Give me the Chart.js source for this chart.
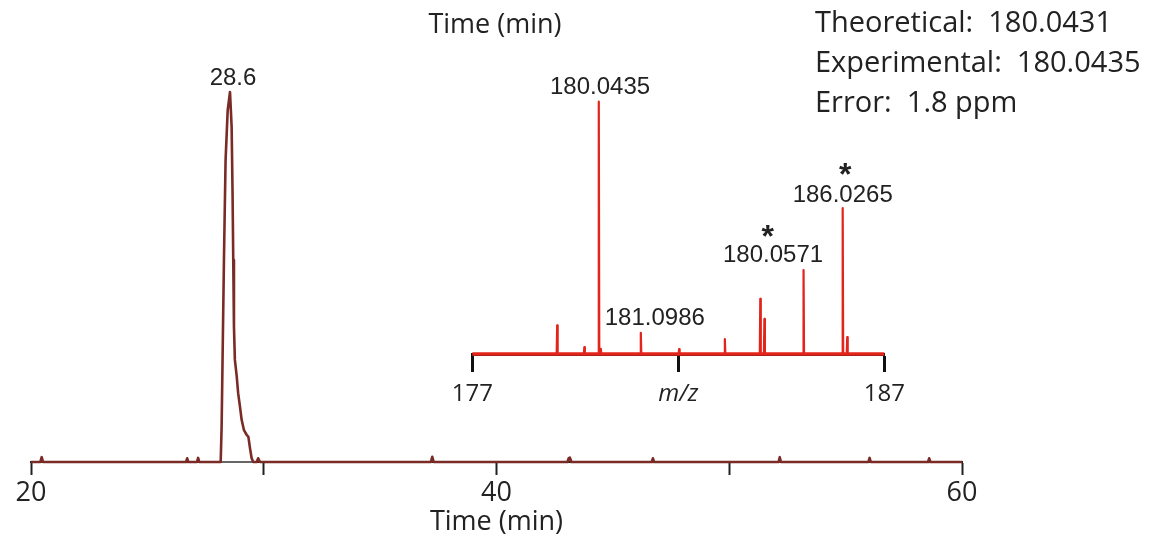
<!DOCTYPE html>
<html lang="en">
<head>
  <meta charset="UTF-8">
  <title>Chromatogram with mass spectrum inset</title>
  <script src="https://cdn.jsdelivr.net/npm/chart.js"></script>
  <style>
    body { margin: 0; background: #fff; }
    #wrap { position: relative; width: 1152px; height: 544px; overflow: hidden; }
    canvas { position: absolute; }
    #main { left: 0; top: 0; }
    #inset { left: 400px; top: 40px; }
    .txt { position: absolute; font-family: 'Open Sans', sans-serif; color: #222; white-space: pre; }
    #topTitle { left: 495px; top: 4px; transform: translateX(-50%); font-size: 27px; }
    #stats { left: 815px; top: 1px; font-size: 29px; line-height: 40px; }
  </style>
</head>
<body>
  <div id="wrap">
    <canvas id="main" width="1152" height="544"></canvas>
    <canvas id="inset" width="560" height="370"></canvas>
    <div class="txt" id="topTitle">Time (min)</div>
    <div class="txt" id="stats">Theoretical:  180.0431
Experimental:  180.0435
Error:  1.8 ppm</div>
  </div>

  <script>
    // chromatogram trace (time in min, relative intensity)
    const traceTime = [20, 20.40, 20.46, 20.52, 26.66, 26.71, 26.76, 27.13, 27.18, 27.23,
      28.15, 28.19, 28.23, 28.29, 28.36, 28.45, 28.55, 28.62, 28.66, 28.69, 28.72, 28.76,
      28.84, 28.90, 28.98, 29.05, 29.15, 29.27, 29.34, 29.41, 29.48, 29.55, 29.70, 29.76,
      29.84, 37.18, 37.24, 37.30, 43.05, 43.10, 43.15, 43.22, 46.67, 46.72, 46.77,
      52.12, 52.17, 52.22, 55.98, 56.03, 56.08, 58.54, 58.59, 58.64, 60];
    const traceIntensity = [0, 0, 1.3, 0, 0, 1.0, 0, 0, 1.1, 0,
      0, 9.5, 27.6, 54.6, 81.6, 95, 100, 90.6, 72.6, 54.6, 36.6, 27.6,
      23.1, 18.6, 14.9, 11.4, 8.6, 7.3, 6.8, 3.7, 1.0, 0, 0, 1.0,
      0, 0, 1.4, 0, 0, 1.0, 1.2, 0, 0, 1.0, 0,
      0, 1.3, 0, 0, 1.1, 0, 0, 1.0, 0, 0];
    // integration baseline under the peak
    const baseTime = [28.15, 29.55];
    const baseIntensity = [0, 0];
    const timeTicks = [20, 30, 40, 50, 60];
    const timeLabels = [20, 40, 60];

    // mass spectrum inset (m/z, relative abundance)
    const peakMz = [179.06, 179.72, 180.07, 180.12, 181.09, 182.02, 183.13, 183.99, 184.09, 185.04, 185.99, 186.10];
    const peakAbundance = [11.4, 2.7, 100, 2.0, 8.4, 1.9, 5.9, 21.9, 13.9, 33.3, 57.8, 6.7];
    const mzRange = [177, 187];
    const mzTicks = [177, 182, 187];
    const mzTickText = ['177', 'm/z', '187'];

    const mainNotes = [
      { text: '28.6', x: 28.68, y: 101.9, font: '24px "Liberation Sans", Arial, sans-serif' }
    ];
    const insetNotes = [
      { text: '180.0435', x: 180.10, y: 103.1, font: '24px "Liberation Sans", Arial, sans-serif' },
      { text: '181.0986', x: 181.43, y: 11.5, font: '24px "Liberation Sans", Arial, sans-serif' },
      { text: '180.0571', x: 184.30, y: 36.5, font: '24px "Liberation Sans", Arial, sans-serif' },
      { text: '186.0265', x: 185.99, y: 60.2, font: '24px "Liberation Sans", Arial, sans-serif' },
      { text: '*', x: 184.17, y: 42.6, font: 'bold 32px "Liberation Sans", Arial, sans-serif' },
      { text: '*', x: 186.05, y: 66.8, font: 'bold 32px "Liberation Sans", Arial, sans-serif' }
    ];

    // draws text notes at data coordinates
    const notesPlugin = {
      id: 'notes',
      afterDraw(chart, args, opts) {
        const ctx = chart.ctx;
        ctx.save();
        ctx.fillStyle = '#222';
        ctx.textAlign = 'center';
        ctx.textBaseline = 'alphabetic';
        (opts.items || []).forEach(n => {
          ctx.font = n.font;
          ctx.fillText(n.text, chart.scales.x.getPixelForValue(n.x), chart.scales.y.getPixelForValue(n.y));
        });
        ctx.restore();
      }
    };

    const axisFont = { family: "'Open Sans', sans-serif", size: 27 };

    new Chart(document.getElementById('main'), {
      type: 'line',
      data: {
        datasets: [
          {
            data: traceTime.map((t, i) => ({ x: t, y: traceIntensity[i] })),
            borderColor: '#7a2b25', borderWidth: 2.6, borderJoinStyle: 'round',
            pointRadius: 0, tension: 0, clip: false
          },
          {
            data: baseTime.map((t, i) => ({ x: t, y: baseIntensity[i] })),
            borderColor: '#666', borderWidth: 2, pointRadius: 0, clip: false
          }
        ]
      },
      options: {
        responsive: false,
        animation: false,
        layout: { padding: { left: 31, right: 190, top: 92, bottom: 0 } },
        plugins: { legend: { display: false }, tooltip: { enabled: false }, notes: { items: mainNotes } },
        scales: {
          x: {
            type: 'linear', min: 20, max: 60,
            afterBuildTicks: s => { s.ticks = timeTicks.map(v => ({ value: v })); },
            afterFit: s => { s.height = 82; },
            ticks: {
              autoSkip: false, maxRotation: 0, padding: 2, color: '#222', font: axisFont,
              callback: v => timeLabels.includes(v) ? String(v) : ''
            },
            grid: { drawOnChartArea: false, tickLength: 13, tickWidth: 2, tickColor: '#222' },
            border: { color: '#222', width: 2 },
            title: { display: true, text: 'Time (min)', color: '#222', font: axisFont, padding: { top: 0, bottom: 5 } }
          },
          y: { display: false, min: 0, max: 100 }
        }
      },
      plugins: [notesPlugin]
    });

    // stick spectrum: each peak is a thin spike on the baseline
    const spec = [];
    peakMz.forEach((m, i) => {
      spec.push({ x: m - 0.012, y: 0 }, { x: m, y: peakAbundance[i] }, { x: m + 0.012, y: 0 });
    });

    new Chart(document.getElementById('inset'), {
      type: 'line',
      data: {
        datasets: [
          {
            data: mzRange.map(m => ({ x: m, y: 0 })),
            borderColor: '#e3241b', borderWidth: 3.5, pointRadius: 0, clip: false
          },
          {
            data: spec, borderColor: '#e3241b', borderWidth: 2.2, borderJoinStyle: 'round',
            pointRadius: 0, tension: 0, clip: false
          }
        ]
      },
      options: {
        responsive: false,
        animation: false,
        layout: { padding: { left: 72.3, right: 75.7, top: 61.7, bottom: 0 } },
        plugins: { legend: { display: false }, tooltip: { enabled: false }, notes: { items: insetNotes } },
        scales: {
          x: {
            type: 'linear', min: 177, max: 187,
            afterBuildTicks: s => { s.ticks = mzTicks.map(v => ({ value: v })); },
            afterFit: s => { s.height = 56; },
            ticks: {
              autoSkip: false, maxRotation: 0, padding: 8, color: '#222',
              font: c => ({ family: "'Open Sans', sans-serif", size: 24, style: c.tick && c.tick.value === 182 ? 'italic' : 'normal' }),
              callback: v => mzTickText[mzTicks.indexOf(v)]
            },
            grid: { drawOnChartArea: false, tickLength: 18, tickWidth: 3, tickColor: '#111' },
            border: { color: '#111', width: 3 }
          },
          y: { display: false, min: 0, max: 100 }
        }
      },
      plugins: [notesPlugin]
    });
  </script>
</body>
</html>
